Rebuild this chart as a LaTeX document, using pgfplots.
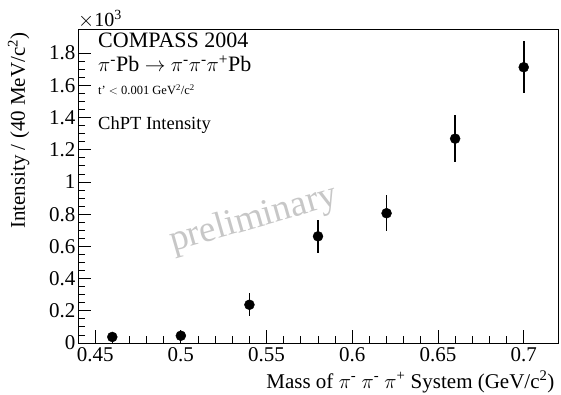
\documentclass[border=0pt]{standalone}
\usepackage{fontspec}
\setmainfont{Liberation Serif}
\usepackage{pgfplots}
\pgfplotsset{compat=1.18}
\newcommand{\fs}[1]{\fontsize{#1bp}{#1bp}\selectfont}
\begin{document}
\begin{tikzpicture}
\useasboundingbox (0,0) rectangle (561bp,395bp);
\node[rotate=16, anchor=base, inner sep=0pt, text=black!22, font=\fs{37}] at (256bp,167bp) {preliminary};
\begin{axis}[
  at={(78bp,52bp)}, anchor=south west,
  width=480bp, height=314bp, scale only axis,
  xmin=0.44, xmax=0.72, ymin=0, ymax=1.95,
  xtick={0.45,0.5,0.55,0.6,0.65,0.7},
  xticklabels={0.45,0.5,0.55,0.6,0.65,0.7},
  ytick={0,0.2,0.4,0.6,0.8,1,1.2,1.4,1.6,1.8},
  yticklabels={0,0.2,0.4,0.6,0.8,1,1.2,1.4,1.6,1.8},
  minor x tick num=4, minor y tick num=3,
  tick align=inside, xtick pos=bottom, ytick pos=left,
  major tick length=13bp, minor tick length=6.5bp,
  axis line style={line width=0.8bp},
  every tick/.style={black, line width=0.8bp},
  ticklabel style={font=\fs{21}},
  xticklabel style={yshift=-1bp},
  yticklabel style={xshift=1bp},
  xlabel={Mass of $\pi$\textsuperscript{-} $\pi$\textsuperscript{-} $\pi$\textsuperscript{+} System (GeV/c\textsuperscript{2})},
  ylabel={Intensity / (40 MeV/c\textsuperscript{2})},
  xlabel style={font=\fs{21}, at={(axis description cs:1,0)}, anchor=base east, yshift=-45bp},
  ylabel style={font=\fs{21}, at={(axis description cs:0,1)}, anchor=base east, yshift=53bp},
  clip=false,
]
\addplot[black, only marks, mark=*, mark size=5bp,
  error bars/.cd, y dir=both, y explicit, error mark=none,
  error bar style={line width=1.6bp, black}]
  table[x=x, y=y, y error=e] {
  x     y       e
  0.46  0.0375  0.008
  0.50  0.045   0.008
  0.54  0.2375  0.072
  0.58  0.6625  0.103
  0.62  0.806   0.110
  0.66  1.269   0.144
  0.70  1.7125  0.160
};
\end{axis}
\node[anchor=base west, inner sep=0pt, font=\fs{20}] at (78bp,368bp) {$\times$10\textsuperscript{3}};
\node[anchor=base west, inner sep=0pt, font=\fs{22}] at (98bp,347bp) {COMPASS 2004};
\node[anchor=base west, inner sep=0pt, font=\fs{22}] at (98bp,323bp) {$\pi$\textsuperscript{-}Pb $\rightarrow$ $\pi$\textsuperscript{-}$\pi$\textsuperscript{-}$\pi$\textsuperscript{+}Pb};
\node[anchor=base west, inner sep=0pt, font=\fs{12.5}] at (98bp,300bp) {t' $<$ 0.001 GeV\textsuperscript{2}/c\textsuperscript{2}};
\node[anchor=base west, inner sep=0pt, font=\fs{18.5}] at (98bp,265bp) {ChPT Intensity};
\end{tikzpicture}
\end{document}
